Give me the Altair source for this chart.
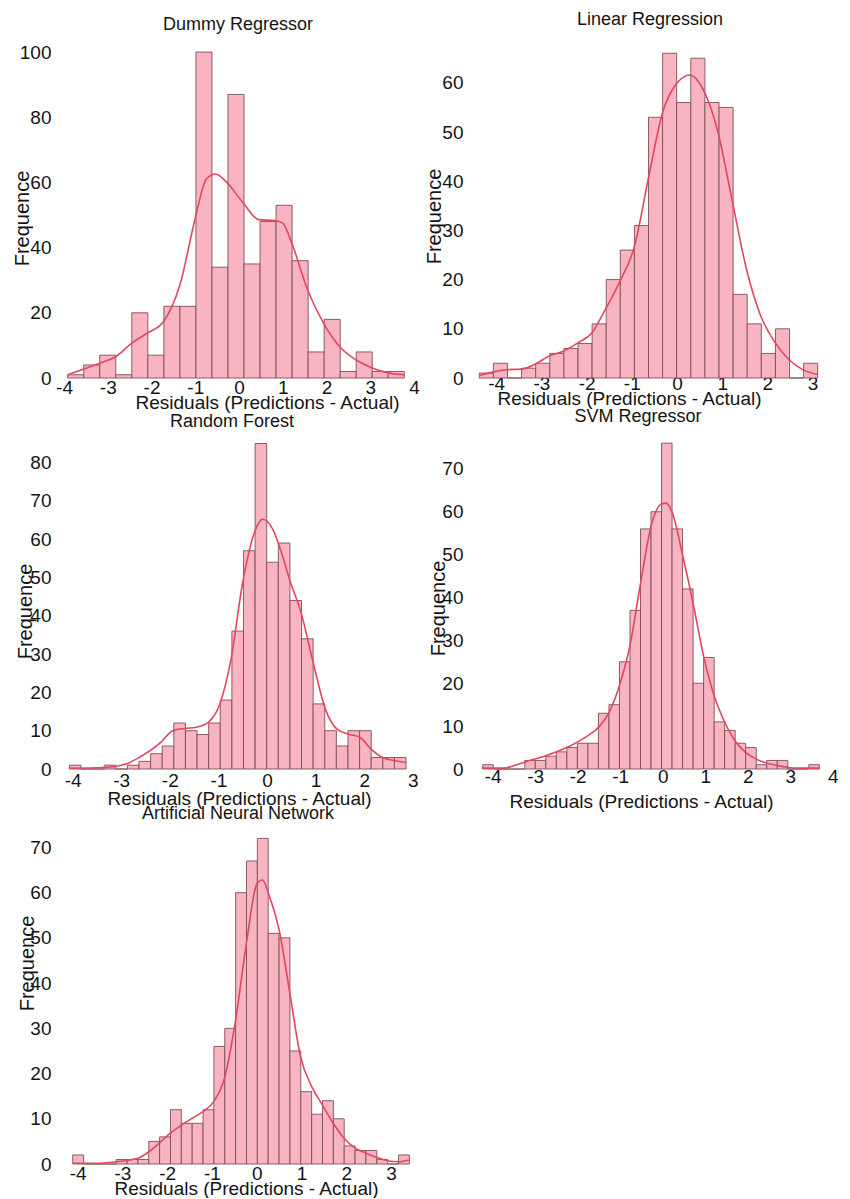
import altair as alt
import pandas as pd

FONT = "Liberation Sans"
BAR_FILL = "#f8b4c1"
BAR_EDGE = "#7a4f58"
KDE_COLOR = "#e4465f"
TEXT = "#141414"
X_TITLE = "Residuals (Predictions - Actual)"
Y_TITLE = "Frequence"

# ---------------- data ----------------
# Dummy Regressor
dummy_bin_start = -3.916
dummy_bin_width = 0.3664
dummy_counts = [1, 4, 7, 1, 20, 7, 22, 22, 100, 34, 87, 35, 48, 53, 36, 8, 18, 2, 8, 2, 2]
dummy_kde_x = [-3.92, -3.17, -2.81, -2.45, -2.09, -1.72, -1.35, -1.00, -0.75, -0.54, -0.28, 0.08,
               0.45, 0.81, 1.00, 1.19, 1.58, 1.95, 2.33, 2.67, 3.06, 3.44, 3.78]
dummy_kde_y = [1, 4.6, 6.6, 10.7, 13.8, 17.4, 28.6, 49, 61, 62.6, 60, 54,
               48.6, 48.3, 47.5, 42, 26.6, 16.4, 9.2, 5.6, 3, 1.5, 1]

# Linear Regression
linreg_bin_start = -4.374
linreg_bin_width = 0.312
linreg_counts = [1, 3, 0, 2, 3, 5, 6, 7, 11, 20, 26, 31, 53, 66, 56, 65, 56, 55, 17, 11, 5, 10, 0, 3]
linreg_kde_x = [-4.37, -3.75, -3.45, -3.16, -2.84, -2.53, -2.20, -1.88, -1.57, -1.26, -0.94, -0.63,
                -0.32, -0.02, 0.29, 0.58, 0.90, 1.21, 1.53, 1.84, 2.15, 2.48, 2.78, 3.11]
linreg_kde_y = [0.5, 1.7, 1.8, 2.7, 4.4, 5.4, 7.1, 9.2, 14.2, 19.7, 26.8, 40.7,
                53.9, 59.7, 61.6, 58.6, 50.2, 36.6, 22.4, 12.9, 7.5, 3.7, 1.7, 0.7]

# Random Forest
rf_bin_start = -4.067
rf_bin_width = 0.2389
rf_counts = [1, 0, 0, 1, 0, 1, 2, 4, 6, 12, 10, 9, 12, 18, 36, 57, 85, 54, 59, 44, 34, 17, 10, 6,
             10, 10, 3, 3, 3]
rf_kde_x = [-4.07, -3.35, -2.90, -2.63, -2.18, -1.94, -1.68, -1.46, -1.21, -0.97, -0.74, -0.50,
            -0.26, -0.09, 0.12, 0.32, 0.46, 0.70, 0.95, 1.20, 1.44, 1.68, 1.91, 2.14, 2.38, 2.62, 2.86]
rf_kde_y = [0.2, 0.4, 1.3, 3, 7, 10, 10.6, 10.9, 12.2, 17, 28.7, 48.7,
            61.7, 65.2, 62.6, 55.6, 49.6, 40.9, 27.8, 15.7, 10.4, 9.1, 8.3, 5.2, 3, 2.2, 1.7]

# SVM Regressor
svm_bin_start = -4.235
svm_bin_width = 0.2475
svm_counts = [1, 0, 0, 0, 2, 2, 3, 4, 5, 6, 6, 13, 15, 25, 37, 56, 60, 76, 56, 42, 20, 26, 11, 9,
              6, 5, 1, 2, 2, 0, 0, 1]
svm_kde_x = [-4.24, -3.74, -3.49, -3.25, -2.75, -2.26, -1.76, -1.51, -1.26, -1.02, -0.77, -0.53,
             -0.27, -0.03, 0.08, 0.22, 0.47, 0.71, 0.96, 1.21, 1.46, 1.70, 1.95, 2.20, 2.70, 3.19, 3.68]
svm_kde_y = [0.2, 0.2, 0.8, 1.6, 3.1, 5, 7.8, 9.7, 13.2, 19.4, 28.8, 42.8,
             56.8, 61.8, 62, 59.9, 49.8, 38.9, 26.4, 17.1, 10.9, 6.6, 3.9, 2.3, 0.8, 0.2, 0.2]

# Artificial Neural Network
ann_bin_start = -4.11
ann_bin_width = 0.2426
ann_counts = [2, 0, 0, 0, 1, 1, 1, 5, 6, 12, 9, 9, 12, 26, 30, 60, 67, 72, 51, 50, 25, 16, 11, 14,
              10, 4, 3, 3, 1, 0, 2]
ann_kde_x = [-4.11, -3.63, -3.14, -2.66, -2.41, -2.18, -1.93, -1.68, -1.45, -1.20, -0.96, -0.71,
             -0.47, -0.23, 0.01, 0.13, 0.26, 0.50, 0.74, 0.98, 1.23, 1.47, 1.71, 1.95, 2.20, 2.44,
             2.68, 2.93, 3.16, 3.41]
ann_kde_y = [0.15, 0.15, 0.5, 1.25, 2.7, 4.6, 6.8, 8.6, 10.1, 11.6, 13.8, 19.3,
             31.9, 48.8, 62.1, 62.8, 59.9, 51.8, 37.8, 23.7, 17.1, 13, 9, 5.7, 3.5, 2.4,
             1.5, 0.7, 0.5, 0.9]

# axis tick labels
dummy_xticks = [-4, -3, -2, -1, 0, 1, 2, 3, 4]
linreg_xticks = [-4, -3, -2, -1, 0, 1, 2, 3]
rf_xticks = [-4, -3, -2, -1, 0, 1, 2, 3]
svm_xticks = [-4, -3, -2, -1, 0, 1, 2, 3, 4]
ann_xticks = [-4, -3, -2, -1, 0, 1, 2, 3]
dummy_yticks = [0, 20, 40, 60, 80, 100]
linreg_yticks = [0, 10, 20, 30, 40, 50, 60]
rf_yticks = [0, 10, 20, 30, 40, 50, 60, 70, 80]
svm_yticks = [0, 10, 20, 30, 40, 50, 60, 70]
ann_yticks = [0, 10, 20, 30, 40, 50, 60, 70]


def panel(title, start, width_bin, counts, kx, ky, xticks, yticks, style):
    bars = pd.DataFrame({
        "x0": [start + i * width_bin for i in range(len(counts))],
        "x1": [start + (i + 1) * width_bin for i in range(len(counts))],
        "count": counts,
    })
    kde = pd.DataFrame({"x0": kx, "count": ky})

    xs = alt.Scale(domain=style["xdom"], nice=False, zero=False)
    ys = alt.Scale(domain=style["ydom"], nice=False, zero=False)
    xaxis = alt.Axis(
        values=xticks, title=X_TITLE, grid=False, domain=False, ticks=False, tickSize=0,
        labelExpr="'' + datum.value",
        labelFlush=False, labelOverlap=False, labelFontSize=19, labelFont=FONT,
        labelColor=TEXT, labelPadding=style["xlabpad"],
        titleFontSize=19, titleFont=FONT, titleFontWeight="normal", titleColor=TEXT,
        titleX=style["xtitle"][0], titleY=style["xtitle"][1],
        titleAlign="center", titleBaseline="middle",
    )
    yaxis = alt.Axis(
        values=yticks, title=Y_TITLE, grid=False, domain=False, ticks=False, tickSize=0,
        labelOverlap=False, labelFontSize=19, labelFont=FONT, labelColor=TEXT,
        labelPadding=11, titleFontSize=20, titleFont=FONT, titleFontWeight="normal",
        titleColor=TEXT, titleAngle=270, titleAlign="center", titleBaseline="middle",
        titleX=style["ytitle"][0], titleY=style["ytitle"][1],
    )

    b = alt.Chart(bars).mark_rect(fill=BAR_FILL, stroke=BAR_EDGE, strokeWidth=0.9).encode(
        x=alt.X("x0:Q", scale=xs, axis=xaxis),
        x2="x1:Q",
        y=alt.Y("count:Q", scale=ys, axis=yaxis),
        y2=alt.datum(0),
    )
    k = alt.Chart(kde).mark_line(color=KDE_COLOR, strokeWidth=1.6, interpolate="monotone").encode(
        x=alt.X("x0:Q", scale=xs, axis=xaxis),
        y=alt.Y("count:Q", scale=ys, axis=yaxis),
    )
    return alt.layer(b, k).properties(
        width=style["w"], height=style["h"],
        title=alt.TitleParams(
            text=title, fontSize=18, font=FONT, fontWeight="normal", color=TEXT,
            anchor="middle", baseline="bottom", frame="group",
            offset=style["toff"], dx=style["tdx"],
        ),
    )


styles = {
    "dummy": dict(w=352, h=337, xdom=[-4.046, 4.0], ydom=[0, 103.4], xlabpad=0,
                  xtitle=(205, 24), ytitle=(-40, 177), toff=-11, tdx=0),
    "linreg": dict(w=352, h=337, xdom=[-4.491, 3.297], ydom=[0, 68.5], xlabpad=-4,
                   xtitle=(155, 20), ytitle=(-39.5, 175), toff=-6, tdx=0),
    "rf": dict(w=352, h=337, xdom=[-4.218, 3.025], ydom=[0, 88], xlabpad=2,
               xtitle=(177, 29), ytitle=(-36.5, 179), toff=-17, tdx=-6),
    "svm": dict(w=360, h=337, xdom=[-4.44, 4.03], ydom=[0, 78.6], xlabpad=-2,
                xtitle=(167, 32), ytitle=(-35.5, 176), toff=-12, tdx=-16),
    "ann": dict(w=352, h=341, xdom=[-4.35, 3.514], ydom=[0, 75.4], xlabpad=0,
                xtitle=(184, 24), ytitle=(-35, 140), toff=-18, tdx=0),
}

p1 = panel("Dummy Regressor", dummy_bin_start, dummy_bin_width, dummy_counts,
           dummy_kde_x, dummy_kde_y, dummy_xticks, dummy_yticks, styles["dummy"])
p2 = panel("Linear Regression", linreg_bin_start, linreg_bin_width, linreg_counts,
           linreg_kde_x, linreg_kde_y, linreg_xticks, linreg_yticks, styles["linreg"])
p3 = panel("Random Forest", rf_bin_start, rf_bin_width, rf_counts,
           rf_kde_x, rf_kde_y, rf_xticks, rf_yticks, styles["rf"])
p4 = panel("SVM Regressor", svm_bin_start, svm_bin_width, svm_counts,
           svm_kde_x, svm_kde_y, svm_xticks, svm_yticks, styles["svm"])
p5 = panel("Artificial Neural Network", ann_bin_start, ann_bin_width, ann_counts,
           ann_kde_x, ann_kde_y, ann_xticks, ann_yticks, styles["ann"])

chart = alt.concat(
    p1, p2, p3, p4, p5, columns=2, spacing={"row": 54, "column": 60}, bounds="flush"
).properties(
    padding={"left": 4, "top": 3, "right": 0, "bottom": 0},
    background="white",
).configure_view(strokeWidth=0)

chart.save("out.html", embed_options={"renderer": "svg", "actions": False})
